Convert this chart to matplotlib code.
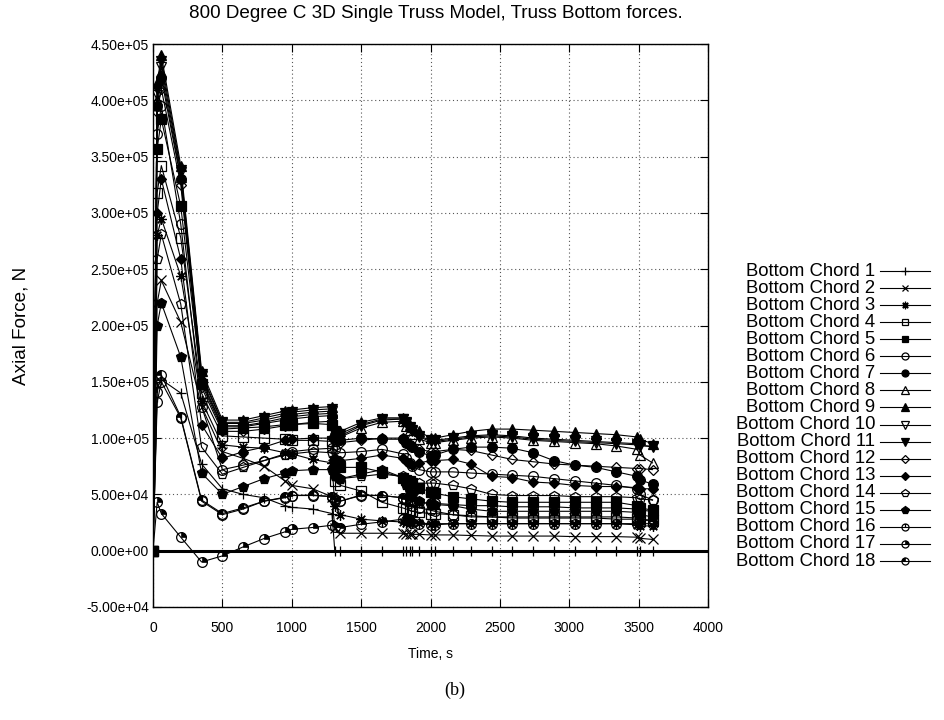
import numpy as np
import matplotlib
matplotlib.use("Agg")
import matplotlib.pyplot as plt
from matplotlib.path import Path
from matplotlib.lines import Line2D
from matplotlib.ticker import FormatStrFormatter, MultipleLocator

# ---------------- data (time in s, axial force in kN) ----------------
time_s = [0, 30, 60, 200, 350, 500, 650, 800, 950, 1000, 1150, 1290, 1310, 1350,
          1500, 1650, 1800, 1825, 1850, 1870, 1920, 2000, 2030, 2160, 2290, 2440,
          2590, 2740, 2890, 3040, 3190, 3340, 3490, 3510, 3600]

chord1 = [0, 145, 152, 140, 77, 55, 50, 47, 40, 38.5, 37, 33, 0, 0, 0, 0, 0, 0, 0, 0,
          0, 0, 0, 0, 0, 0, 0, 0, 0, 0, 0, 0, 0, 0, 0]
chord2 = [0, 220, 240, 203, 128, 88, 82, 75, 62, 58, 55, 48, 20, 15.5, 15.5, 15.5, 15.5,
          15, 15, 14.5, 14.5, 14, 14, 14, 13.5, 13, 13, 13, 13, 12.5, 12.5, 12.5, 12, 11, 10]
chord3 = [0, 280, 295, 244, 133, 94, 92, 91, 87, 86, 81, 78, 40, 32, 28, 26.5, 25.5, 25,
          25, 24.5, 24.5, 24, 24, 24, 24, 24, 24, 24, 24, 24, 24, 24, 23, 22, 22]
chord4 = [0, 318, 342, 278, 140, 102, 101, 100, 99, 98, 98, 97, 62, 58, 53, 43, 38, 37,
          36, 35, 34, 33, 33, 32, 31, 30, 30, 30, 30, 30, 30, 30, 29, 28, 27]
chord5 = [0, 357, 383, 306, 148, 108, 109, 110, 112, 112, 113, 112, 80, 74, 74, 70, 65,
          63, 62, 60, 56, 52, 51, 48, 46, 44, 43, 43, 43, 43, 43, 43, 40, 38, 36]
chord6 = [0, 370, 395, 290, 128, 72, 76, 80, 86, 88, 90, 91, 90, 87, 88, 90, 86, 82, 78,
          75, 72, 70, 70, 70, 69, 68, 67, 66, 64, 62, 60, 58, 55, 50, 45]
chord7 = [0, 395, 420, 330, 150, 110, 110, 113, 116, 117, 119, 120, 100, 98, 100, 99, 99,
          96, 94, 92, 88, 84, 85, 90, 92, 92, 91, 87, 80, 76, 74, 70, 66, 63, 59]
chord8 = [0, 400, 425, 332, 152, 111, 111, 114, 118, 119, 121, 122, 103, 101, 109, 114,
          115, 111, 107, 104, 99, 96, 96, 98, 100, 101, 100, 98, 97, 96, 95, 93, 90, 85, 78]
chord9 = [0, 415, 440, 342, 160, 116, 116, 120, 124, 125, 127, 128, 108, 106, 114, 118,
          118, 115, 112, 110, 106, 100, 100, 103, 106, 108, 108, 107, 106, 105, 104, 103,
          101, 99, 95]
chord10 = [0, 405, 430, 336, 155, 113, 113, 116, 120, 121, 123, 124, 104, 102, 111, 116,
           117, 113, 109, 106, 101, 97, 97, 99, 101, 102, 101, 99, 98, 97, 96, 95, 94, 93, 93]
chord11 = [0, 410, 435, 338, 157, 114, 114, 118, 122, 123, 125, 126, 106, 104, 112, 117,
           117, 114, 110, 107, 102, 98, 98, 100, 102, 103, 102, 100, 99, 98, 97, 96, 95, 94, 92]
chord12 = [0, 390, 410, 325, 145, 106, 106, 108, 111, 112, 114, 115, 97, 96, 98, 100, 100,
           97, 94, 92, 90, 88, 88, 90, 89, 85, 81, 79, 77, 76, 75, 74, 73, 73, 72]
chord13 = [0, 300, 330, 259, 112, 82, 88, 92, 98, 99, 100, 100, 82, 80, 82, 85, 82, 80,
           78, 76, 78, 80, 80, 81, 77, 66, 65, 61, 60, 58, 57, 57, 56, 55, 55]
chord14 = [0, 259, 281, 219, 92, 68, 74, 80, 85, 86, 88, 87, 66, 64, 66, 68, 66, 64, 62,
           60, 60, 60, 60, 58, 55, 50, 49, 49, 49, 48, 48, 48, 47, 46, 45]
chord15 = [0, 200, 220, 172, 69, 50, 57, 64, 69, 71, 72, 72, 66, 64, 68, 72, 65, 58, 52,
           49, 44, 41, 41, 40, 37, 35, 35, 35, 35, 35, 35, 35, 34, 32, 30]
chord16 = [0, 132, 150, 118, 44, 32, 37, 44, 47, 49, 49, 48, 44, 44, 49, 49, 47, 45, 42,
           40, 38, 36, 35, 32, 30, 30, 29, 29, 29, 29, 29, 28, 28, 27, 27]
chord17 = [0, 43, 33, 12, -10, -4.6, 3.4, 10.8, 16.7, 19, 20.6, 22.6, 21, 20.6, 23.5,
           25.6, 28, 27, 26, 25, 24, 23, 23, 24, 24, 24, 24, 24, 24, 24, 24, 24, 24, 24, 24]
chord18 = [0, 141, 156, 119, 45, 33, 38, 44, 47.5, 49, 49.5, 48, 46, 44, 49.5, 49, 47, 46,
           45, 44, 43, 42, 42, 41, 40, 40, 39, 39, 39, 38, 38, 38, 37, 36, 35]

labels = ["Bottom Chord %d" % i for i in range(1, 19)]
title = "800 Degree C 3D Single Truss Model, Truss Bottom forces."
xlabel = "Time, s"
ylabel = "Axial Force, N"

series = [chord1, chord2, chord3, chord4, chord5, chord6, chord7, chord8, chord9,
          chord10, chord11, chord12, chord13, chord14, chord15, chord16, chord17, chord18]

# ---------------- markers (gnuplot postscript point types 1..18) ----------------
circ = Path.unit_circle()
c0_path = Path(np.concatenate([circ.vertices, [[0, 0], [0, 1]]]),
               np.concatenate([circ.codes, [Path.MOVETO, Path.LINETO]]))
q1 = Path.wedge(0, 90)
q2 = Path.wedge(90, 180)

# (marker, filled, size, overlay)
mstyles = [
    ("+", False, 7.5, None),
    ("x", False, 6.5, None),
    ((8, 2, 0), False, 7.5, None),
    ("s", False, 6.5, None),
    ("s", True, 6.5, None),
    ("o", False, 7, None),
    ("o", True, 7, None),
    ("^", False, 7.5, None),
    ("^", True, 7.5, None),
    ("v", False, 7.5, None),
    ("v", True, 7.5, None),
    ("D", False, 5.2, None),
    ("D", True, 5.2, None),
    ("p", False, 7.5, None),
    ("p", True, 7.5, None),
    (c0_path, False, 7, None),
    ("o", False, 7, q1),
    ("o", False, 7, q2),
]

plt.rcParams["font.family"] = ["Liberation Sans", "DejaVu Sans"]

W, H = 944, 720
fig = plt.figure(figsize=(W / 100, H / 100), dpi=100)
ax = fig.add_axes([153 / W, 1 - 607 / H, (708 - 153) / W, (607 - 44) / H])

t = np.array(time_s, dtype=float)
for i, (vals, (mk, filled, ms, ov)) in enumerate(zip(series, mstyles)):
    y = np.array(vals, dtype=float) * 1000.0
    ax.plot(t, y, color="black", lw=0.8, marker=mk, ms=ms,
            mfc="black" if filled else "none", mec="black", mew=0.9,
            zorder=3 + i * 0.01)
    if ov is not None:
        ax.plot(t, y, ls="none", marker=ov, ms=ms, mfc="black",
                mec="black", mew=0.5, zorder=3 + i * 0.01)

ax.axhline(0, color="black", lw=2.2, zorder=2)

ax.set_xlim(0, 4000)
ax.set_ylim(-50000, 450000)
ax.xaxis.set_major_locator(MultipleLocator(500))
ax.yaxis.set_major_locator(MultipleLocator(50000))
ax.yaxis.set_major_formatter(FormatStrFormatter("%.2e"))
ax.grid(True, color="#555555", lw=0.8, ls=(0, (1, 2.5)))
ax.tick_params(direction="in", top=True, right=True, length=6, width=0.8,
               labelsize=10, colors="black")
ax.tick_params(axis="x", pad=10)
ax.tick_params(axis="y", pad=3)
for s in ax.spines.values():
    s.set_linewidth(1.0)

ax.set_xlabel(xlabel, fontsize=10)
ax.xaxis.set_label_coords(0.5, -0.071)
ax.set_ylabel(ylabel, fontsize=13.6)
ax.yaxis.set_label_coords(-0.222, 0.5)

fig.text(436 / W, 1 - 13 / H, title, ha="center", va="center", fontsize=13.6)
fig.text(455 / W, 1 - 690 / H, "(b)", ha="center", va="center", fontsize=13,
         family=["Liberation Serif", "DejaVu Serif"])

# ---------------- gnuplot-style key (text right-aligned, sample on right) ----------------
y0, dy = 271.0, 17.06
for i, (lab, (mk, filled, ms, ov)) in enumerate(zip(labels, mstyles)):
    yp = 1 - (y0 + i * dy) / H
    fig.text(875 / W, yp, lab, ha="right", va="center", fontsize=13.3)
    fig.add_artist(Line2D([880 / W, 930 / W], [yp, yp], transform=fig.transFigure,
                          color="black", lw=0.8))
    fig.add_artist(Line2D([905 / W], [yp], transform=fig.transFigure, ls="none",
                          marker=mk, ms=ms * 0.72, mfc="black" if filled else "none",
                          mec="black", mew=0.9))
    if ov is not None:
        fig.add_artist(Line2D([905 / W], [yp], transform=fig.transFigure, ls="none",
                              marker=ov, ms=ms * 0.72, mfc="black", mec="black",
                              mew=0.5))

fig.savefig("out.png", dpi=100)
